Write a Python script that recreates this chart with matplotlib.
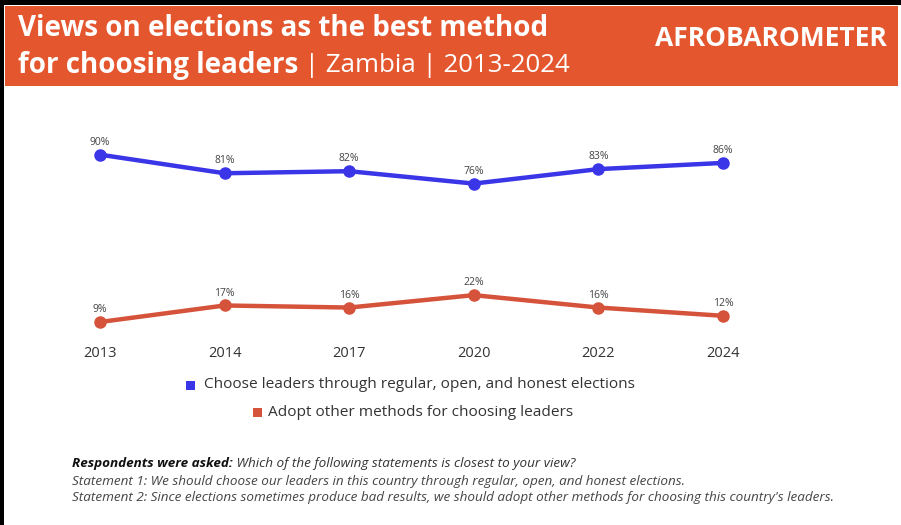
import matplotlib
matplotlib.use("Agg")
import matplotlib.pyplot as plt
from matplotlib.patches import Rectangle

# Survey rounds and shares of respondents (%)
years = ["2013", "2014", "2017", "2020", "2022", "2024"]
elections = [90, 81, 82, 76, 83, 86]
other_methods = [9, 17, 16, 22, 16, 12]
series_names = ["Choose leaders through regular, open, and honest elections",
                "Adopt other methods for choosing leaders"]

ORANGE = "#E4572E"
BLUE = "#3B35E8"
RED = "#D6533B"
FONT = "Open Sans"

W, H = 901, 525
fig = plt.figure(figsize=(W / 100, H / 100), dpi=100)
fig.patch.set_facecolor("white")


def fx(px):
    return px / W


def fy(py):
    return 1 - py / H


# header band and frame edges
fig.patches.append(Rectangle((fx(5), fy(86)), fx(893), 80 / H, transform=fig.transFigure,
                             facecolor=ORANGE, edgecolor="none", zorder=0))
fig.patches.append(Rectangle((0, fy(5)), 1, 5 / H, transform=fig.transFigure,
                             facecolor="black", edgecolor="none", zorder=1))
fig.patches.append(Rectangle((0, 0), fx(4), 1, transform=fig.transFigure,
                             facecolor="black", edgecolor="none", zorder=1))

fig.text(fx(18), fy(29), "Views on elections as the best method", color="white",
         fontsize=20, fontweight="bold", family=FONT, va="center", ha="left")
t1 = fig.text(fx(18), fy(65), "for choosing leaders", color="white",
              fontsize=20, fontweight="bold", family=FONT, va="center", ha="left")
fig.text(fx(655), fy(38), "AFROBAROMETER", color="white", fontsize=19,
         fontweight="bold", family=FONT, va="center", ha="left")

# main chart area
ax = fig.add_axes([fx(100), fy(340.6), fx(623), (340.6 - 134) / H])
x = list(range(len(years)))
ax.plot(x, elections, color=BLUE, lw=3.2, marker="o", ms=8, clip_on=False, zorder=3)
ax.plot(x, other_methods, color=RED, lw=3.2, marker="o", ms=8, clip_on=False, zorder=3)
for xi, v in zip(x, elections):
    ax.annotate(f"{v}%", (xi, v), xytext=(0, 5), textcoords="offset points",
                ha="center", va="bottom", fontsize=7.5, color="#444444", family=FONT)
for xi, v in zip(x, other_methods):
    ax.annotate(f"{v}%", (xi, v), xytext=(0, 5), textcoords="offset points",
                ha="center", va="bottom", fontsize=7.5, color="#444444", family=FONT)
ax.set_xlim(0, len(years) - 1)
ax.set_ylim(0, 100)
ax.set_xticks(x)
ax.set_xticklabels(years, fontsize=10.5, color="#333333", family=FONT)
ax.tick_params(axis="x", length=0, pad=4)
ax.set_yticks([])
for s in ax.spines.values():
    s.set_visible(False)
ax.patch.set_alpha(0)

# legend
fig.patches.append(Rectangle((fx(186), fy(390)), fx(9), 9 / H, transform=fig.transFigure,
                             facecolor=BLUE, edgecolor="none"))
fig.text(fx(204), fy(385), series_names[0], fontsize=11.1, color="#333333",
         family=FONT, va="center", ha="left")
fig.patches.append(Rectangle((fx(253), fy(417)), fx(9), 9 / H, transform=fig.transFigure,
                             facecolor=RED, edgecolor="none"))
fig.text(fx(268), fy(412), series_names[1], fontsize=11.1, color="#333333",
         family=FONT, va="center", ha="left")

# question wording
FS = 9.7
q1 = fig.text(fx(72), fy(464), "Respondents were asked:", fontsize=FS, style="italic",
              fontweight="bold", color="#111111", family=FONT, va="center", ha="left")
fig.text(fx(72), fy(481), "Statement 1: We should choose our leaders in this country "
         "through regular, open, and honest elections.", fontsize=FS, style="italic",
         color="#444444", family=FONT, va="center", ha="left")
fig.text(fx(72), fy(498), "Statement 2: Since elections sometimes produce bad results, "
         "we should adopt other methods for choosing this country's leaders.",
         fontsize=FS, style="italic", color="#444444", family=FONT, va="center", ha="left")

# attach the regular-weight pieces after the bold ones
fig.canvas.draw()
r = fig.canvas.get_renderer()
bb = t1.get_window_extent(r)
fig.text(bb.x1 / W, fy(65), " | Zambia | 2013-2024", color="white", fontsize=18.6,
         family=FONT, va="center", ha="left")
bb = q1.get_window_extent(r)
fig.text(bb.x1 / W, fy(464), " Which of the following statements is closest to your view?",
         fontsize=FS, style="italic", color="#333333", family=FONT, va="center", ha="left")

fig.savefig("out.png", dpi=100)
